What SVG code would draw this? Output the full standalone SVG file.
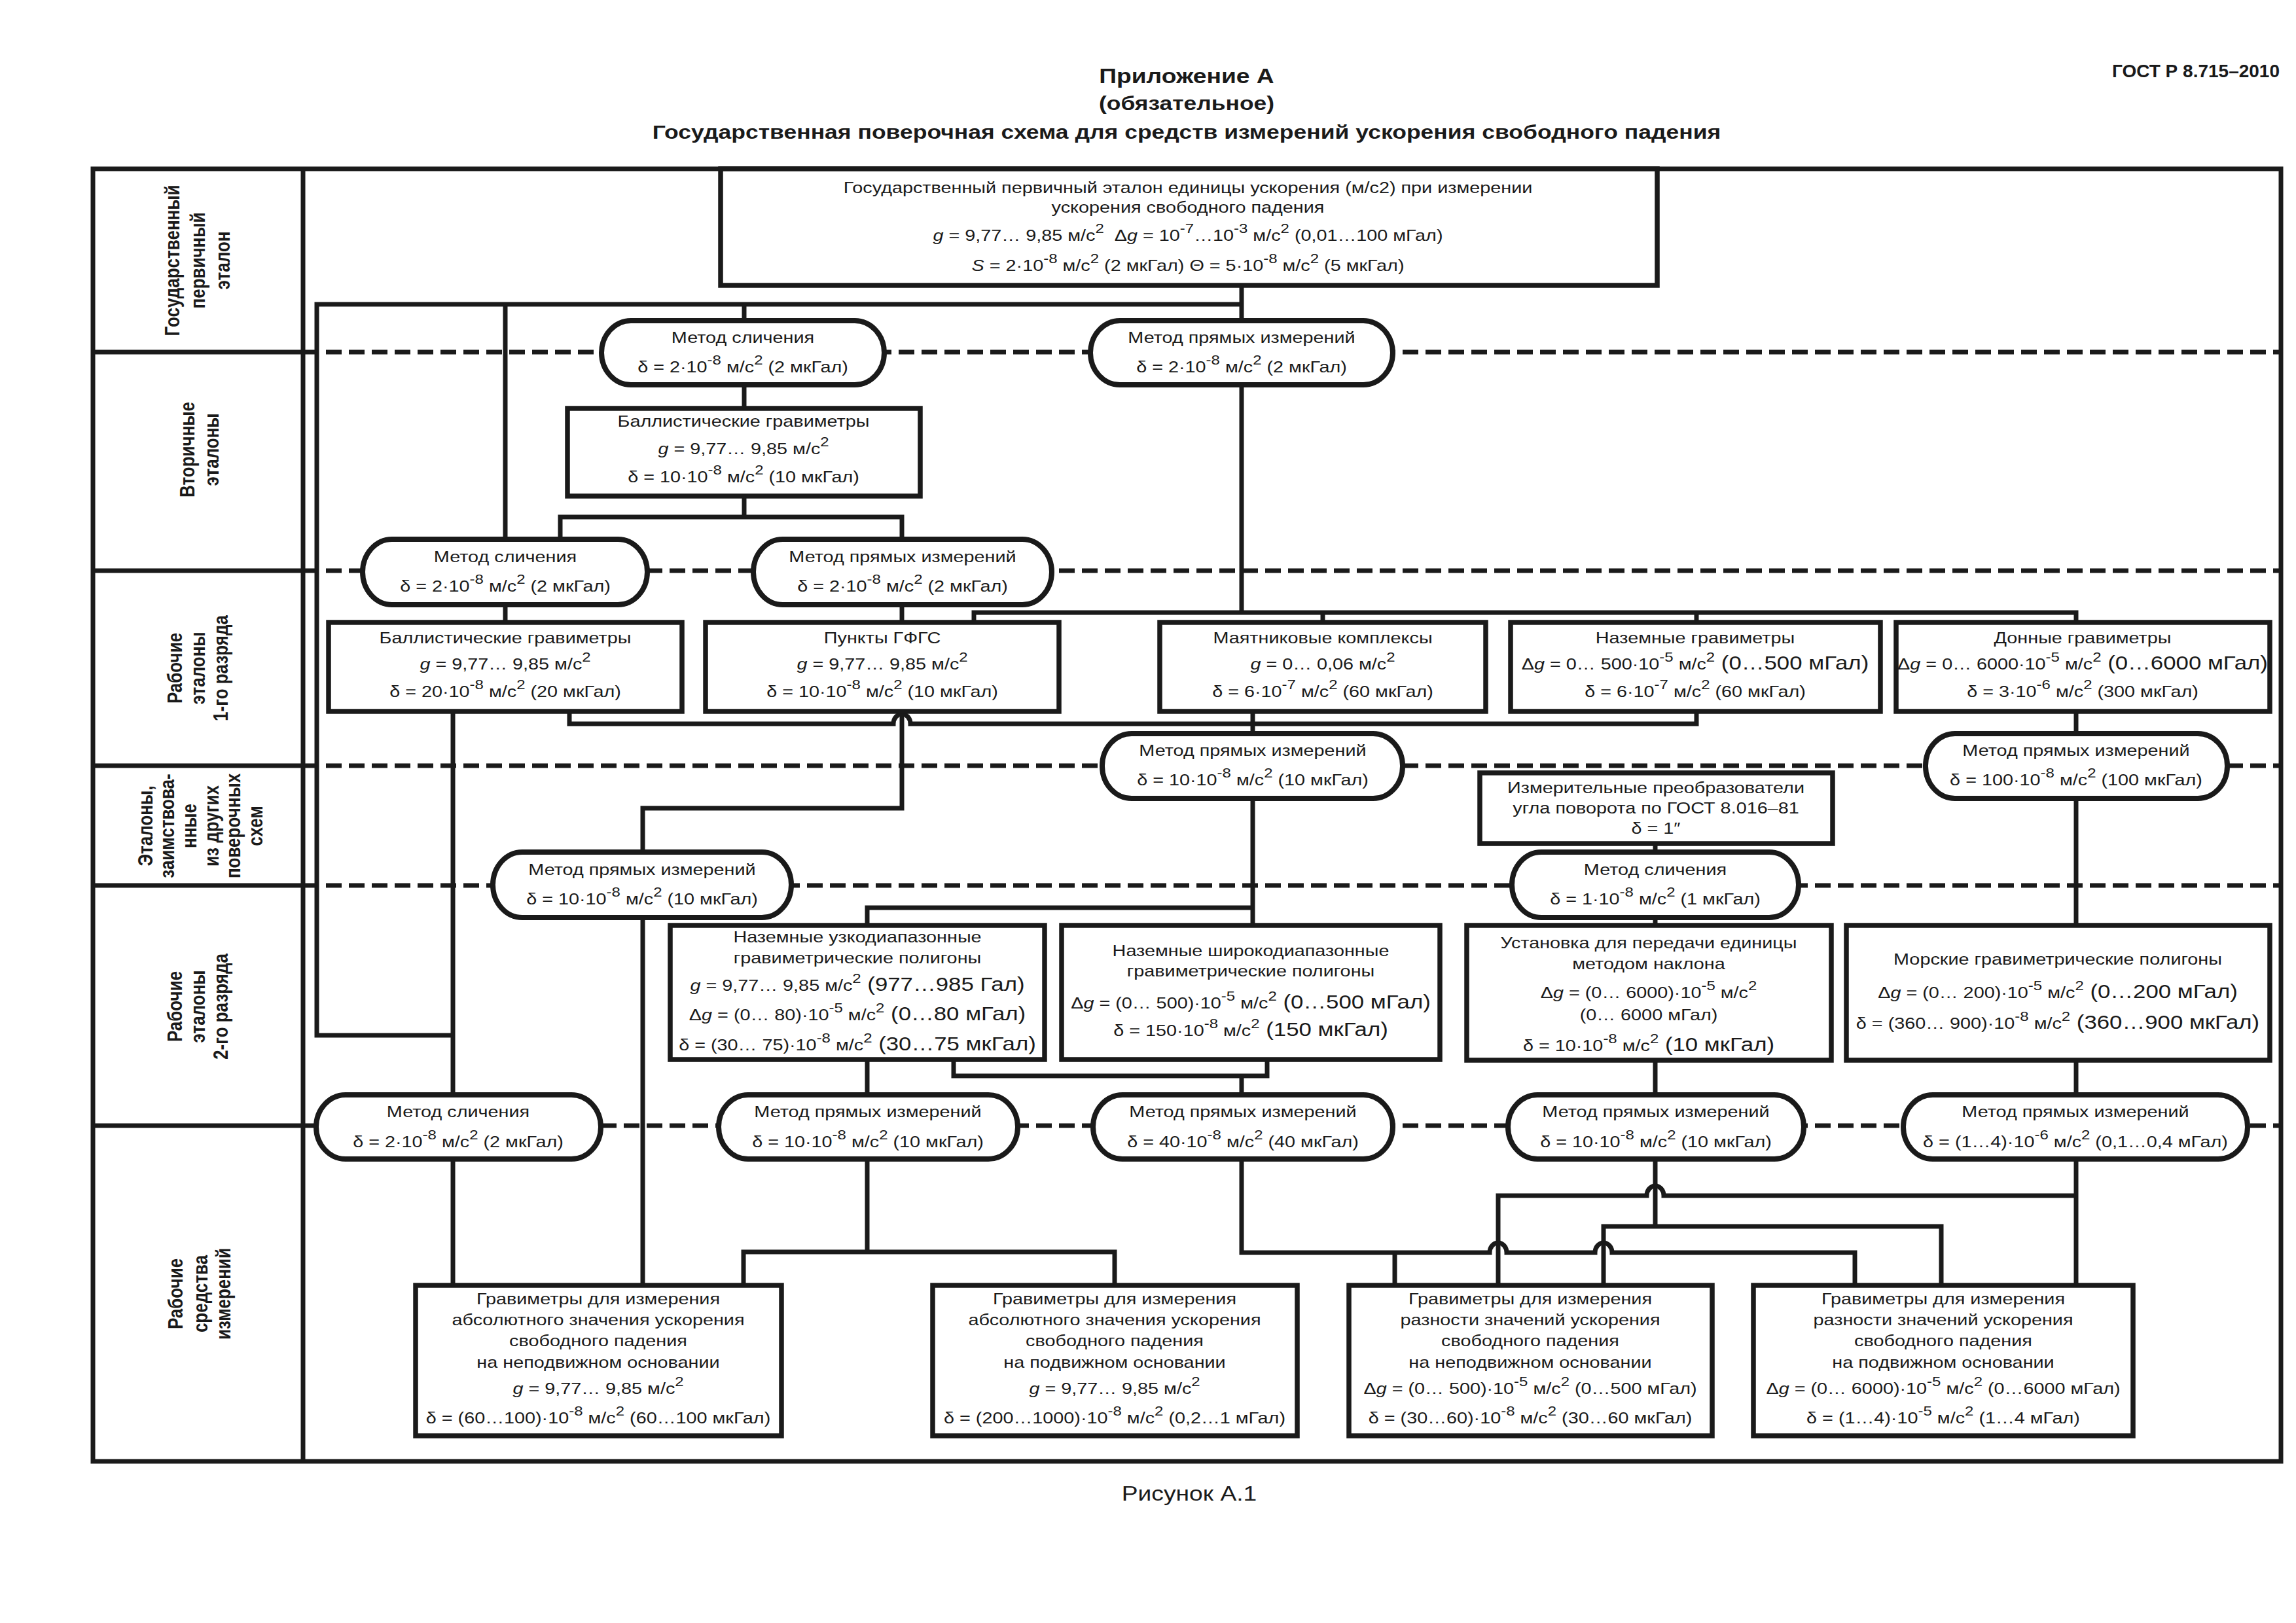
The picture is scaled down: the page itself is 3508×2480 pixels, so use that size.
<svg xmlns="http://www.w3.org/2000/svg" width="3508" height="2480" viewBox="0 0 3508 2480">
<style>
.t{font-family:"Liberation Sans",Arial,sans-serif;font-size:24px;fill:#1a1a1a;text-anchor:middle}
.s{font-size:20px}
.b{font-size:29px}
.i{font-style:italic}
.lab{font-family:"Liberation Sans",Arial,sans-serif;font-weight:bold;font-size:26px;fill:#1a1a1a;text-anchor:middle}
.hd{font-family:"Liberation Sans",Arial,sans-serif;font-weight:bold;fill:#1a1a1a}
.box{fill:#fff;stroke:#1a1a1a;stroke-width:7.5}
.pill{fill:#fff;stroke:#1a1a1a;stroke-width:8}
.c path{fill:none;stroke:#1a1a1a;stroke-width:7}
.d{fill:none;stroke:#1a1a1a;stroke-width:7;stroke-dasharray:24 11}
.f{fill:none;stroke:#1a1a1a;stroke-width:7}
</style>
<rect width="3508" height="2480" fill="#fff"/>

<g id="header" class="hd">
<text x="3483" y="118" font-size="28" text-anchor="end">ГОСТ Р 8.715–2010</text>
<g transform="translate(1813 0) scale(1.2 1)" text-anchor="middle">
<text y="127" font-size="31">Приложение А</text>
<text y="168" font-size="29.5">(обязательное)</text>
<text y="212" font-size="29.6">Государственная поверочная схема для средств измерений ускорения свободного падения</text>
</g>
</g>
<g id="caption" class="t" transform="translate(1817 0) scale(1.2 1)"><text y="2293" style="font-size:31px">Рисунок А.1</text></g>

<g id="frame">
<rect class="f" x="142" y="258" width="3343" height="1975"/>
<path class="f" d="M463 258V2233M142 538H463M142 872H463M142 1170H463M142 1353H463M142 1720H463"/>
</g>

<g id="levels">
<path class="d" d="M463 538H3485M463 872H3485M463 1170H3485M463 1353H3485M463 1720H3485"/>
</g>

<g id="level-labels" class="lab">
<g transform="translate(302 398) scale(1.2 1) rotate(-90)"><text><tspan x="0" y="-23">Государственный</tspan><tspan x="0" y="9">первичный</tspan><tspan x="0" y="41">эталон</tspan></text></g>
<g transform="translate(302 687) scale(1.2 1) rotate(-90)"><text><tspan x="0" y="-4">Вторичные</tspan><tspan x="0" y="27">эталоны</tspan></text></g>
<g transform="translate(302 1021) scale(1.2 1) rotate(-90)"><text><tspan x="0" y="-20">Рабочие</tspan><tspan x="0" y="9">эталоны</tspan><tspan x="0" y="38">1-го разряда</tspan></text></g>
<g transform="translate(306 1262) scale(1.2 1) rotate(-90)"><text><tspan x="0" y="-61">Эталоны,</tspan><tspan x="0" y="-33">заимствова-</tspan><tspan x="0" y="-5">нные</tspan><tspan x="0" y="23">из других</tspan><tspan x="0" y="51">поверочных</tspan><tspan x="0" y="79">схем</tspan></text></g>
<g transform="translate(302 1538) scale(1.2 1) rotate(-90)"><text><tspan x="0" y="-20">Рабочие</tspan><tspan x="0" y="9">эталоны</tspan><tspan x="0" y="38">2-го разряда</tspan></text></g>
<g transform="translate(305 1977) scale(1.2 1) rotate(-90)"><text><tspan x="0" y="-22">Рабочие</tspan><tspan x="0" y="10">средства</tspan><tspan x="0" y="39">измерений</tspan></text></g>
</g>

<g id="connectors" class="c">
<path d="M1897 436V490"/>
<path d="M692 1582H484V465H1897"/>
<path d="M772 465V824"/>
<path d="M1137 465V490"/>
<path d="M1137 588V624"/>
<path d="M1137 758V790"/>
<path d="M856 824V790H1378V824"/>
<path d="M772 924V951"/>
<path d="M1378 924V951"/>
<path d="M1897 588V936"/>
<path d="M1488 951V936H3172V951"/>
<path d="M2021 936V951"/>
<path d="M2592 936V951"/>
<path d="M692 1087V1673"/>
<path d="M870 1087V1106H1365A13 15 0 0 1 1391 1106H2592V1087"/>
<path d="M1914 1087V1121"/>
<path d="M1378 1087V1235H982V1302"/>
<path d="M3172 1087V1121"/>
<path d="M3172 1220V1414"/>
<path d="M1914 1220V1414"/>
<path d="M1914 1387H1325V1414"/>
<path d="M2529 1289V1302"/>
<path d="M2529 1402V1414"/>
<path d="M1325 1619V1673"/>
<path d="M1457 1619V1644H1936V1619"/>
<path d="M1897 1644V1673"/>
<path d="M2529 1620V1673"/>
<path d="M3172 1620V1673"/>
<path d="M692 1771V1964"/>
<path d="M982 1402V1964"/>
<path d="M1325 1771V1913"/>
<path d="M1136 1964V1913H1703V1964"/>
<path d="M1897 1771V1914H2276A13 15 0 0 1 2302 1914H2437A13 15 0 0 1 2463 1914H2834V1964"/>
<path d="M2131 1914V1964"/>
<path d="M2529 1771V1874"/>
<path d="M2450 1964V1874H2966V1964"/>
<path d="M3172 1771V1964"/>
<path d="M3172 1827H2542A13 15 0 0 0 2516 1827H2289V1964"/>
</g>

<g id="primary">
<rect class="box" x="1101" y="258" width="1431" height="178"/>
<g class="t" transform="translate(1815 0) scale(1.2 1)">
<text y="295">Государственный первичный эталон единицы ускорения (м/с2) при измерении</text>
<text y="325">ускорения свободного падения</text>
<text y="368"><tspan class="i">g</tspan> = 9,77… 9,85 м/с<tspan class="s" dy="-12">2</tspan><tspan dy="12">&#160;&#160;Δ</tspan><tspan class="i">g</tspan> = 10<tspan class="s" dy="-12">-7</tspan><tspan dy="12">…10</tspan><tspan class="s" dy="-12">-3</tspan><tspan dy="12"> м/с</tspan><tspan class="s" dy="-12">2</tspan><tspan dy="12"> (0,01…100 мГал)</tspan></text>
<text y="414"><tspan class="i">S</tspan> = 2·10<tspan class="s" dy="-12">-8</tspan><tspan dy="12"> м/с</tspan><tspan class="s" dy="-12">2</tspan><tspan dy="12"> (2 мкГал) Θ = 5·10</tspan><tspan class="s" dy="-12">-8</tspan><tspan dy="12"> м/с</tspan><tspan class="s" dy="-12">2</tspan><tspan dy="12"> (5 мкГал)</tspan></text>
</g>
</g>

<g id="m-cmp-1">
<rect class="pill" x="919" y="490" width="432" height="98" rx="45" ry="49"/>
<g class="t" transform="translate(1135 0) scale(1.2 1)">
<text y="524">Метод сличения</text>
<text y="569">δ = 2·10<tspan class="s" dy="-12">-8</tspan><tspan dy="12"> м/с</tspan><tspan class="s" dy="-12">2</tspan><tspan dy="12"> (2 мкГал)</tspan></text>
</g>
</g>
<g id="m-dir-1">
<rect class="pill" x="1666" y="490" width="462" height="98" rx="45" ry="49"/>
<g class="t" transform="translate(1897 0) scale(1.2 1)">
<text y="524">Метод прямых измерений</text>
<text y="569">δ = 2·10<tspan class="s" dy="-12">-8</tspan><tspan dy="12"> м/с</tspan><tspan class="s" dy="-12">2</tspan><tspan dy="12"> (2 мкГал)</tspan></text>
</g>
</g>

<g id="ballistic-2">
<rect class="box" x="867" y="624" width="539" height="134"/>
<g class="t" transform="translate(1136 0) scale(1.2 1)">
<text y="652">Баллистические гравиметры</text>
<text y="694"><tspan class="i">g</tspan> = 9,77… 9,85 м/с<tspan class="s" dy="-12">2</tspan></text>
<text y="737">δ = 10·10<tspan class="s" dy="-12">-8</tspan><tspan dy="12"> м/с</tspan><tspan class="s" dy="-12">2</tspan><tspan dy="12"> (10 мкГал)</tspan></text>
</g>
</g>

<g id="m-cmp-2">
<rect class="pill" x="554" y="824" width="435" height="100" rx="45" ry="50"/>
<g class="t" transform="translate(772 0) scale(1.2 1)">
<text y="859">Метод сличения</text>
<text y="904">δ = 2·10<tspan class="s" dy="-12">-8</tspan><tspan dy="12"> м/с</tspan><tspan class="s" dy="-12">2</tspan><tspan dy="12"> (2 мкГал)</tspan></text>
</g>
</g>
<g id="m-dir-2">
<rect class="pill" x="1151" y="824" width="456" height="100" rx="45" ry="50"/>
<g class="t" transform="translate(1379 0) scale(1.2 1)">
<text y="859">Метод прямых измерений</text>
<text y="904">δ = 2·10<tspan class="s" dy="-12">-8</tspan><tspan dy="12"> м/с</tspan><tspan class="s" dy="-12">2</tspan><tspan dy="12"> (2 мкГал)</tspan></text>
</g>
</g>

<g id="ballistic-1">
<rect class="box" x="502" y="951" width="540" height="136"/>
<g class="t" transform="translate(772 0) scale(1.2 1)">
<text y="983">Баллистические гравиметры</text>
<text y="1023"><tspan class="i">g</tspan> = 9,77… 9,85 м/с<tspan class="s" dy="-12">2</tspan></text>
<text y="1065">δ = 20·10<tspan class="s" dy="-12">-8</tspan><tspan dy="12"> м/с</tspan><tspan class="s" dy="-12">2</tspan><tspan dy="12"> (20 мкГал)</tspan></text>
</g>
</g>
<g id="gfgs">
<rect class="box" x="1078" y="951" width="540" height="136"/>
<g class="t" transform="translate(1348 0) scale(1.2 1)">
<text y="983">Пункты ГФГС</text>
<text y="1023"><tspan class="i">g</tspan> = 9,77… 9,85 м/с<tspan class="s" dy="-12">2</tspan></text>
<text y="1065">δ = 10·10<tspan class="s" dy="-12">-8</tspan><tspan dy="12"> м/с</tspan><tspan class="s" dy="-12">2</tspan><tspan dy="12"> (10 мкГал)</tspan></text>
</g>
</g>
<g id="pendulum">
<rect class="box" x="1772" y="951" width="498" height="136"/>
<g class="t" transform="translate(2021 0) scale(1.2 1)">
<text y="983">Маятниковые комплексы</text>
<text y="1023"><tspan class="i">g</tspan> = 0… 0,06 м/с<tspan class="s" dy="-12">2</tspan></text>
<text y="1065">δ = 6·10<tspan class="s" dy="-12">-7</tspan><tspan dy="12"> м/с</tspan><tspan class="s" dy="-12">2</tspan><tspan dy="12"> (60 мкГал)</tspan></text>
</g>
</g>
<g id="ground-grav">
<rect class="box" x="2308" y="951" width="565" height="136"/>
<g class="t" transform="translate(2590 0) scale(1.2 1)">
<text y="983">Наземные гравиметры</text>
<text y="1023">Δ<tspan class="i">g</tspan> = 0… 500·10<tspan class="s" dy="-12">-5</tspan><tspan dy="12"> м/с</tspan><tspan class="s" dy="-12">2</tspan><tspan class="b" dy="12"> (0…500 мГал)</tspan></text>
<text y="1065">δ = 6·10<tspan class="s" dy="-12">-7</tspan><tspan dy="12"> м/с</tspan><tspan class="s" dy="-12">2</tspan><tspan dy="12"> (60 мкГал)</tspan></text>
</g>
</g>
<g id="bottom-grav">
<rect class="box" x="2897" y="951" width="571" height="136"/>
<g class="t" transform="translate(3182 0) scale(1.2 1)">
<text y="983">Донные гравиметры</text>
<text y="1023">Δ<tspan class="i">g</tspan> = 0… 6000·10<tspan class="s" dy="-12">-5</tspan><tspan dy="12"> м/с</tspan><tspan class="s" dy="-12">2</tspan><tspan class="b" dy="12"> (0…6000 мГал)</tspan></text>
<text y="1065">δ = 3·10<tspan class="s" dy="-12">-6</tspan><tspan dy="12"> м/с</tspan><tspan class="s" dy="-12">2</tspan><tspan dy="12"> (300 мкГал)</tspan></text>
</g>
</g>

<g id="m-dir-3">
<rect class="pill" x="1684" y="1121" width="459" height="99" rx="45" ry="49"/>
<g class="t" transform="translate(1914 0) scale(1.2 1)">
<text y="1155">Метод прямых измерений</text>
<text y="1200">δ = 10·10<tspan class="s" dy="-12">-8</tspan><tspan dy="12"> м/с</tspan><tspan class="s" dy="-12">2</tspan><tspan dy="12"> (10 мкГал)</tspan></text>
</g>
</g>
<g id="m-dir-5">
<rect class="pill" x="2942" y="1121" width="461" height="99" rx="45" ry="49"/>
<g class="t" transform="translate(3172 0) scale(1.2 1)">
<text y="1155">Метод прямых измерений</text>
<text y="1200">δ = 100·10<tspan class="s" dy="-12">-8</tspan><tspan dy="12"> м/с</tspan><tspan class="s" dy="-12">2</tspan><tspan dy="12"> (100 мкГал)</tspan></text>
</g>
</g>

<g id="angle-transducers">
<rect class="box" x="2261" y="1181" width="539" height="108"/>
<g class="t" transform="translate(2530 0) scale(1.2 1)">
<text y="1212">Измерительные преобразователи</text>
<text y="1243">угла поворота по ГОСТ 8.016–81</text>
<text y="1274">δ = 1″</text>
</g>
</g>

<g id="m-dir-4">
<rect class="pill" x="753" y="1302" width="456" height="100" rx="45" ry="50"/>
<g class="t" transform="translate(981 0) scale(1.2 1)">
<text y="1337">Метод прямых измерений</text>
<text y="1382">δ = 10·10<tspan class="s" dy="-12">-8</tspan><tspan dy="12"> м/с</tspan><tspan class="s" dy="-12">2</tspan><tspan dy="12"> (10 мкГал)</tspan></text>
</g>
</g>
<g id="m-cmp-3">
<rect class="pill" x="2310" y="1302" width="438" height="100" rx="45" ry="50"/>
<g class="t" transform="translate(2529 0) scale(1.2 1)">
<text y="1337">Метод сличения</text>
<text y="1382">δ = 1·10<tspan class="s" dy="-12">-8</tspan><tspan dy="12"> м/с</tspan><tspan class="s" dy="-12">2</tspan><tspan dy="12"> (1 мкГал)</tspan></text>
</g>
</g>

<g id="narrow-polygons">
<rect class="box" x="1024" y="1414" width="572" height="205"/>
<g class="t" transform="translate(1310 0) scale(1.2 1)">
<text y="1440">Наземные узкодиапазонные</text>
<text y="1472">гравиметрические полигоны</text>
<text y="1514"><tspan class="i">g</tspan> = 9,77… 9,85 м/с<tspan class="s" dy="-12">2</tspan><tspan class="b" dy="12"> (977…985 Гал)</tspan></text>
<text y="1559">Δ<tspan class="i">g</tspan> = (0… 80)·10<tspan class="s" dy="-12">-5</tspan><tspan dy="12"> м/с</tspan><tspan class="s" dy="-12">2</tspan><tspan class="b" dy="12"> (0…80 мГал)</tspan></text>
<text y="1605">δ = (30… 75)·10<tspan class="s" dy="-12">-8</tspan><tspan dy="12"> м/с</tspan><tspan class="s" dy="-12">2</tspan><tspan class="b" dy="12"> (30…75 мкГал)</tspan></text>
</g>
</g>
<g id="wide-polygons">
<rect class="box" x="1622" y="1414" width="578" height="205"/>
<g class="t" transform="translate(1911 0) scale(1.2 1)">
<text y="1461">Наземные широкодиапазонные</text>
<text y="1492">гравиметрические полигоны</text>
<text y="1541">Δ<tspan class="i">g</tspan> = (0… 500)·10<tspan class="s" dy="-12">-5</tspan><tspan dy="12"> м/с</tspan><tspan class="s" dy="-12">2</tspan><tspan class="b" dy="12"> (0…500 мГал)</tspan></text>
<text y="1583">δ = 150·10<tspan class="s" dy="-12">-8</tspan><tspan dy="12"> м/с</tspan><tspan class="s" dy="-12">2</tspan><tspan class="b" dy="12"> (150 мкГал)</tspan></text>
</g>
</g>
<g id="tilt-setup">
<rect class="box" x="2241" y="1414" width="557" height="206"/>
<g class="t" transform="translate(2519 0) scale(1.2 1)">
<text y="1449">Установка для передачи единицы</text>
<text y="1481">методом наклона</text>
<text y="1525">Δ<tspan class="i">g</tspan> = (0… 6000)·10<tspan class="s" dy="-12">-5</tspan><tspan dy="12"> м/с</tspan><tspan class="s" dy="-12">2</tspan></text>
<text y="1559">(0… 6000 мГал)</text>
<text y="1606">δ = 10·10<tspan class="s" dy="-12">-8</tspan><tspan dy="12"> м/с</tspan><tspan class="s" dy="-12">2</tspan><tspan class="b" dy="12"> (10 мкГал)</tspan></text>
</g>
</g>
<g id="sea-polygons">
<rect class="box" x="2821" y="1414" width="647" height="206"/>
<g class="t" transform="translate(3144 0) scale(1.2 1)">
<text y="1474">Морские гравиметрические полигоны</text>
<text y="1525">Δ<tspan class="i">g</tspan> = (0… 200)·10<tspan class="s" dy="-12">-5</tspan><tspan dy="12"> м/с</tspan><tspan class="s" dy="-12">2</tspan><tspan class="b" dy="12"> (0…200 мГал)</tspan></text>
<text y="1572">δ = (360… 900)·10<tspan class="s" dy="-12">-8</tspan><tspan dy="12"> м/с</tspan><tspan class="s" dy="-12">2</tspan><tspan class="b" dy="12"> (360…900 мкГал)</tspan></text>
</g>
</g>

<g id="m-cmp-4">
<rect class="pill" x="483" y="1673" width="435" height="98" rx="45" ry="49"/>
<g class="t" transform="translate(700 0) scale(1.2 1)">
<text y="1707">Метод сличения</text>
<text y="1753">δ = 2·10<tspan class="s" dy="-12">-8</tspan><tspan dy="12"> м/с</tspan><tspan class="s" dy="-12">2</tspan><tspan dy="12"> (2 мкГал)</tspan></text>
</g>
</g>
<g id="m-dir-6">
<rect class="pill" x="1098" y="1673" width="457" height="98" rx="45" ry="49"/>
<g class="t" transform="translate(1326 0) scale(1.2 1)">
<text y="1707">Метод прямых измерений</text>
<text y="1753">δ = 10·10<tspan class="s" dy="-12">-8</tspan><tspan dy="12"> м/с</tspan><tspan class="s" dy="-12">2</tspan><tspan dy="12"> (10 мкГал)</tspan></text>
</g>
</g>
<g id="m-dir-7">
<rect class="pill" x="1670" y="1673" width="458" height="98" rx="45" ry="49"/>
<g class="t" transform="translate(1899 0) scale(1.2 1)">
<text y="1707">Метод прямых измерений</text>
<text y="1753">δ = 40·10<tspan class="s" dy="-12">-8</tspan><tspan dy="12"> м/с</tspan><tspan class="s" dy="-12">2</tspan><tspan dy="12"> (40 мкГал)</tspan></text>
</g>
</g>
<g id="m-dir-8">
<rect class="pill" x="2304" y="1673" width="452" height="98" rx="45" ry="49"/>
<g class="t" transform="translate(2530 0) scale(1.2 1)">
<text y="1707">Метод прямых измерений</text>
<text y="1753">δ = 10·10<tspan class="s" dy="-12">-8</tspan><tspan dy="12"> м/с</tspan><tspan class="s" dy="-12">2</tspan><tspan dy="12"> (10 мкГал)</tspan></text>
</g>
</g>
<g id="m-dir-9">
<rect class="pill" x="2908" y="1673" width="526" height="98" rx="45" ry="49"/>
<g class="t" transform="translate(3171 0) scale(1.2 1)">
<text y="1707">Метод прямых измерений</text>
<text y="1753">δ = (1…4)·10<tspan class="s" dy="-12">-6</tspan><tspan dy="12"> м/с</tspan><tspan class="s" dy="-12">2</tspan><tspan dy="12"> (0,1…0,4 мГал)</tspan></text>
</g>
</g>

<g id="abs-fixed">
<rect class="box" x="635" y="1964" width="559" height="230"/>
<g class="t" transform="translate(914 0) scale(1.2 1)">
<text y="1993">Гравиметры для измерения</text>
<text y="2025">абсолютного значения ускорения</text>
<text y="2057">свободного падения</text>
<text y="2090">на неподвижном основании</text>
<text y="2130"><tspan class="i">g</tspan> = 9,77… 9,85 м/с<tspan class="s" dy="-12">2</tspan></text>
<text y="2175">δ = (60…100)·10<tspan class="s" dy="-12">-8</tspan><tspan dy="12"> м/с</tspan><tspan class="s" dy="-12">2</tspan><tspan dy="12"> (60…100 мкГал)</tspan></text>
</g>
</g>
<g id="abs-moving">
<rect class="box" x="1425" y="1964" width="557" height="230"/>
<g class="t" transform="translate(1703 0) scale(1.2 1)">
<text y="1993">Гравиметры для измерения</text>
<text y="2025">абсолютного значения ускорения</text>
<text y="2057">свободного падения</text>
<text y="2090">на подвижном основании</text>
<text y="2130"><tspan class="i">g</tspan> = 9,77… 9,85 м/с<tspan class="s" dy="-12">2</tspan></text>
<text y="2175">δ = (200…1000)·10<tspan class="s" dy="-12">-8</tspan><tspan dy="12"> м/с</tspan><tspan class="s" dy="-12">2</tspan><tspan dy="12"> (0,2…1 мГал)</tspan></text>
</g>
</g>
<g id="rel-fixed">
<rect class="box" x="2061" y="1964" width="555" height="230"/>
<g class="t" transform="translate(2338 0) scale(1.2 1)">
<text y="1993">Гравиметры для измерения</text>
<text y="2025">разности значений ускорения</text>
<text y="2057">свободного падения</text>
<text y="2090">на неподвижном основании</text>
<text y="2130">Δ<tspan class="i">g</tspan> = (0… 500)·10<tspan class="s" dy="-12">-5</tspan><tspan dy="12"> м/с</tspan><tspan class="s" dy="-12">2</tspan><tspan dy="12"> (0…500 мГал)</tspan></text>
<text y="2175">δ = (30…60)·10<tspan class="s" dy="-12">-8</tspan><tspan dy="12"> м/с</tspan><tspan class="s" dy="-12">2</tspan><tspan dy="12"> (30…60 мкГал)</tspan></text>
</g>
</g>
<g id="rel-moving">
<rect class="box" x="2679" y="1964" width="580" height="230"/>
<g class="t" transform="translate(2969 0) scale(1.2 1)">
<text y="1993">Гравиметры для измерения</text>
<text y="2025">разности значений ускорения</text>
<text y="2057">свободного падения</text>
<text y="2090">на подвижном основании</text>
<text y="2130">Δ<tspan class="i">g</tspan> = (0… 6000)·10<tspan class="s" dy="-12">-5</tspan><tspan dy="12"> м/с</tspan><tspan class="s" dy="-12">2</tspan><tspan dy="12"> (0…6000 мГал)</tspan></text>
<text y="2175">δ = (1…4)·10<tspan class="s" dy="-12">-5</tspan><tspan dy="12"> м/с</tspan><tspan class="s" dy="-12">2</tspan><tspan dy="12"> (1…4 мГал)</tspan></text>
</g>
</g>
</svg>
